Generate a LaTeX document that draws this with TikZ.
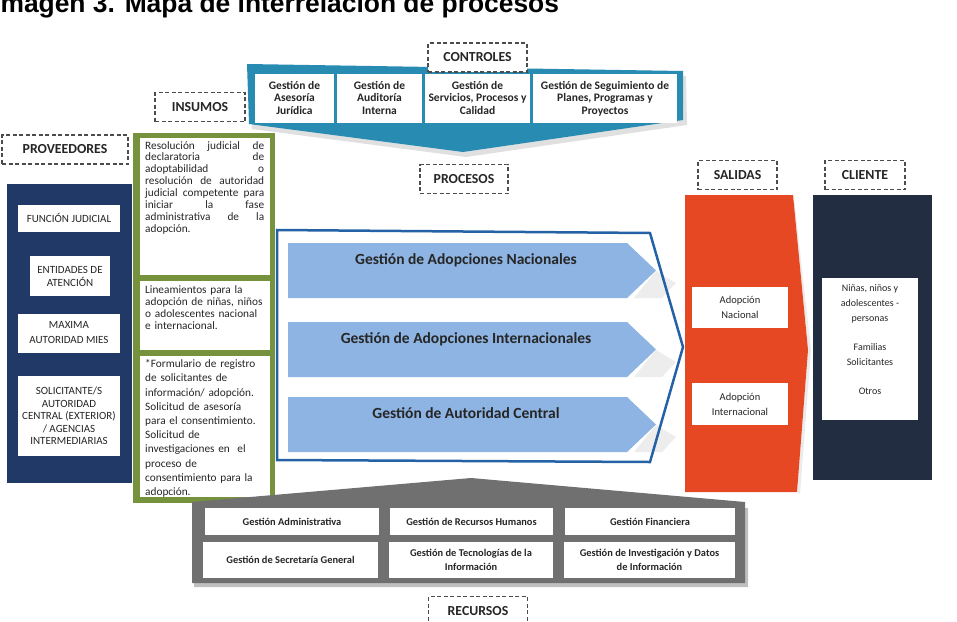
\documentclass[tikz,border=0pt]{standalone}
\usepackage{fontspec}
\setmainfont{Carlito}
\newfontfamily\titlefont{Liberation Sans}
\usetikzlibrary{positioning}

\definecolor{tealband}{RGB}{40,139,178}
\definecolor{provblue}{RGB}{33,57,102}
\definecolor{insgreen}{RGB}{118,146,60}
\definecolor{procline}{RGB}{36,98,165}
\definecolor{chevblue}{RGB}{141,180,226}
\definecolor{salred}{RGB}{231,72,36}
\definecolor{clinavy}{RGB}{35,45,66}
\definecolor{recgray}{RGB}{112,112,112}
\definecolor{ink}{RGB}{38,38,38}

% one justified line of the first insumo
\newcommand{\jline}[1]{\makebox[119pt][s]{\spaceskip=0pt #1}\\}

\tikzset{
  dashlabel/.style={draw=black!70, dash pattern=on 4pt off 2.5pt, line width=1.1pt,
    fill=white, minimum width=#1, minimum height=29pt, inner sep=0pt, text=ink,
    font=\bfseries\fontsize{13.8}{14}\selectfont},
  whitebox/.style={fill=white, inner sep=0pt, align=center, text=ink},
  tealcell/.style={whitebox, minimum height=49pt, font=\bfseries\fontsize{11.5}{12.5}\selectfont},
  provcell/.style={whitebox, font=\fontsize{11}{13}\selectfont},
  graycell/.style={whitebox, font=\bfseries\fontsize{10.4}{14}\selectfont},
  insutext/.style={anchor=north west, inner sep=0pt, text=ink, align=left, text width=120pt},
  chevtext/.style={anchor=base, inner sep=0pt, text=ink, font=\bfseries\fontsize{15.5}{16}\selectfont}
}

\begin{document}
\begin{tikzpicture}[x=1pt,y=-1pt]
\useasboundingbox (0,0) rectangle (957,621);
\clip (0,0) rectangle (957,621);

% title, cut by the top of the page
\node[anchor=base west, inner sep=0pt, font=\titlefont\bfseries\fontsize{26.4}{28}\selectfont] (titulo) at (-7,12.5)
  {Imagen 3. Mapa de interrelación de procesos};

% CONTROLES
\fill[black!12] (250,68) -- (686,76) -- (687,125) -- (466,157) -- (252,129) -- cycle;
\fill[tealband] (247,64) -- (683,71) -- (683,120) -- (463,152) -- (249,124) -- cycle;
\foreach \nm/\xa/\xb/\txt in {asesoria/255/334/{Gestión de\\Asesoría\\Jurídica},
    auditoria/337/422/{Gestión de\\Auditoría\\Interna},
    servicios/425/530/{Gestión de\\Servicios, Procesos y\\Calidad},
    seguimiento/533/677/{Gestión de Seguimiento de\\Planes, Programas y\\Proyectos}}
  \node[tealcell, minimum width={(\xb-\xa)*1pt}, text depth=2pt] (\nm) at ({(\xa+\xb)/2},98.5) {\txt};
\node[dashlabel=99pt] (controles) at (477.5,57.5) {CONTROLES};

% PROVEEDORES
\node[dashlabel=126pt] (proveedores) at (65,149.5) {PROVEEDORES};
\fill[provblue] (7,184) rectangle (132,483);
\node[provcell, minimum width=102pt, minimum height=27pt] (judicial) at (69,218) {FUNCIÓN JUDICIAL};
\node[provcell, minimum width=80pt, minimum height=40pt] (entidades) at (70,276) {ENTIDADES DE\\ATENCIÓN};
\node[provcell, minimum width=102pt, minimum height=39pt, font=\fontsize{11}{15}\selectfont] (mies) at (69,333) {MAXIMA\\AUTORIDAD MIES};
\node[provcell, minimum width=102pt, minimum height=80pt, font=\fontsize{11}{12.6}\selectfont] (solicitantes) at (69,416)
  {SOLICITANTE/S\\AUTORIDAD\\CENTRAL (EXTERIOR)\\/ AGENCIAS\\INTERMEDIARIAS};

% INSUMOS
\node[dashlabel=90pt] (insumos) at (200,107) {INSUMOS};
\fill[insgreen] (133,133) rectangle (275,503);
\node[whitebox, minimum width=130pt, minimum height=137pt] (resolucion) at (205,206.5) {};
\node[whitebox, minimum width=130pt, minimum height=69pt] (lineamientos) at (205,315.5) {};
\node[whitebox, minimum width=130pt, minimum height=141pt] (formularios) at (205,426.5) {};
\node[insutext, font=\fontsize{11.3}{11.9}\selectfont] (resoltxt) at (145,141)
  {\jline{Resolución judicial de}\jline{declaratoria de}\jline{adoptabilidad o}%
   \jline{resolución de autoridad}\jline{judicial competente para}\jline{iniciar la fase}%
   \jline{administrativa de la}adopción.};
\node[insutext, font=\fontsize{11.3}{12}\selectfont] (lineatxt) at (145,285)
  {Lineamientos para la\\adopción de niñas, niños\\o adolescentes nacional\\e internacional.};
\begin{scope}
  \clip (formularios.north west) rectangle (formularios.south east);
  \node[insutext, font=\fontsize{11.3}{14.2}\selectfont] (formtxt) at (145,359.5)
    {*Formulario de registro\\de solicitantes de\\información/ adopción.\\*Solicitud de asesoría\\para el consentimiento.\\*Solicitud de\\investigaciones en\ \ el\\proceso de\\consentimiento para la\\adopción.};
\end{scope}

% PROCESOS
\node[dashlabel=88pt] (procesos) at (464,179) {PROCESOS};
\fill[white] (277,230) -- (650,233) -- (683,347) -- (650,462) -- (277,460) -- cycle;
\foreach \nm/\yt/\txt in {nacionales/243/Gestión de Adopciones Nacionales,
    internacionales/322/Gestión de Adopciones Internacionales,
    autoridad/397/Gestión de Autoridad Central} {
  \fill[black!7] (634,\yt+55) -- (656,\yt+28) -- (676,\yt+40) -- (662,\yt+55) -- cycle;
  \fill[chevblue] (288,\yt) -- (627,\yt) -- (656,\yt+27.5) -- (627,\yt+55) -- (288,\yt+55) -- cycle;
  \node[chevtext] (\nm) at (466,\yt+21.5) {\txt};
}
\draw[procline, line width=2.5pt, line join=miter] (277,230) -- (650,233) -- (683,347) -- (650,462) -- (277,460) -- cycle;

% SALIDAS
\node[dashlabel=79pt] (salidas) at (737.5,175) {SALIDAS};
\fill[black!8] (794,197) -- (811,350) -- (800,494) -- (797,492) -- (808,350) -- (793,195) -- cycle;
\fill[salred] (685,195) -- (793,195) -- (808,350) -- (797,492) -- (685,492) -- cycle;
\node[whitebox, minimum width=96pt, minimum height=41pt, font=\fontsize{10.5}{15}\selectfont] (nacional) at (740,307.5) {Adopción\\Nacional};
\node[whitebox, minimum width=96pt, minimum height=42pt, font=\fontsize{10.5}{15}\selectfont] (internacional) at (740,404) {Adopción\\Internacional};

% CLIENTE
\node[dashlabel=80pt] (cliente) at (865,175) {CLIENTE};
\fill[clinavy] (813,195) rectangle (932,480);
\node[whitebox, minimum width=96pt, minimum height=142pt] (personas) at (870,349) {};
\node[anchor=north, inner sep=0pt, align=center, text=ink, font=\fontsize{10}{15}\selectfont] (personatxt) at (870,284)
  {Niñas, niños y\\adolescentes -\\personas\\[14pt]Familias\\Solicitantes\\[14pt]Otros};

% RECURSOS
\fill[black!25] (194,508) -- (473,485) -- (748,508) -- (748,587) -- (194,587) -- cycle;
\fill[recgray] (192,502) -- (471,478) -- (745,502) -- (745,583) -- (192,583) -- cycle;
\foreach \nm/\xa/\xb/\ya/\yb/\txt in {administrativa/205/379/508/535/{Gestión Administrativa},
    humanos/390/553/508/535/{Gestión de Recursos Humanos},
    financiera/565/735/508/535/{Gestión Financiera},
    secretaria/203/378/542/578/{Gestión de Secretaría General},
    tecnologias/389/553/542/578/{Gestión de Tecnologías de la\\Información},
    investigacion/564/735/542/578/{Gestión de Investigación y Datos\\de Información}}
  \node[graycell, minimum width={(\xb-\xa)*1pt}, minimum height={(\yb-\ya)*1pt}] (\nm) at ({(\xa+\xb)/2},{(\ya+\yb)/2}) {\txt};
\node[dashlabel=99pt] (recursos) at (478,611) {RECURSOS};

\end{tikzpicture}
\end{document}
